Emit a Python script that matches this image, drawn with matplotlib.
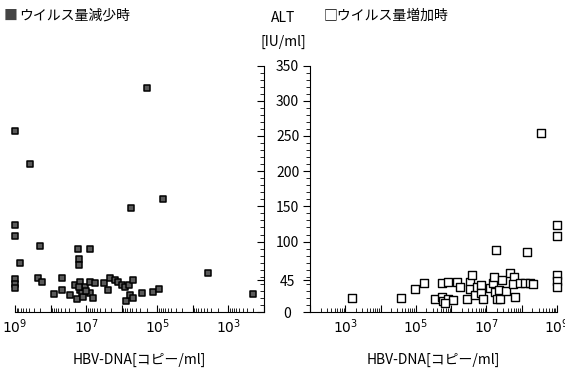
import matplotlib.pyplot as plt
import matplotlib.ticker as mticker
import numpy as np

plt.rcParams['font.family'] = ['Noto Sans CJK JP', 'DejaVu Sans']

# virus load decreasing: log10(HBV-DNA), ALT
dec_logx = [9.0, 8.58, 9.0, 9.0, 8.30, 7.24, 6.89, 5.30, 5.74, 4.83,
            8.86, 7.20, 7.20, 3.57, 2.30, 9.0, 9.0, 9.0, 8.35, 8.25,
            7.90, 7.69, 7.67, 7.46, 7.31, 7.27, 7.17, 7.17, 7.13, 7.03,
            6.89, 6.89, 6.80, 6.75, 6.50, 6.38, 6.33, 6.19, 6.10, 6.00,
            5.90, 5.80, 5.68, 5.88, 5.77, 5.68, 5.44, 5.11, 4.96, 7.20,
            7.10, 7.00]
dec_alt = [257, 210, 123, 108, 94, 89, 89, 318, 147, 161,
           70, 75, 67, 56, 26, 47, 40, 34, 48, 42,
           25, 48, 31, 24, 38, 19, 43, 31, 27, 36,
           42, 27, 20, 41, 41, 31, 48, 45, 42, 38,
           35, 38, 46, 15, 24, 20, 27, 29, 32, 35,
           22, 30]

# virus load increasing
inc_logx = [8.54, 9.0, 9.0, 7.26, 8.16, 3.20, 4.58, 4.97, 5.23, 5.54,
            5.73, 5.73, 5.77, 5.92, 5.92, 6.06, 6.16, 6.25, 6.44, 6.53,
            6.53, 6.58, 6.67, 6.74, 6.86, 6.86, 6.91, 7.10, 7.19, 7.21,
            7.24, 7.29, 7.38, 7.43, 7.36, 7.55, 7.67, 7.78, 7.74, 7.81,
            7.95, 8.09, 8.23, 8.31, 9.0, 9.0, 9.0, 5.82]
inc_alt = [254, 123, 108, 88, 85, 20, 20, 32, 41, 18,
           41, 22, 15, 43, 19, 17, 43, 35, 19, 42,
           32, 53, 24, 36, 39, 27, 19, 34, 41, 49,
           29, 19, 19, 45, 31, 30, 55, 50, 40, 22,
           41, 41, 41, 40, 53, 44, 36, 13]

yticks = [0, 45, 100, 150, 200, 250, 300, 350]

fig = plt.figure(figsize=(5.65, 3.76), dpi=100)
axl = fig.add_axes([15 / 565, 64 / 376, 249 / 565, 246.5 / 376])
axr = fig.add_axes([310 / 565, 64 / 376, 247 / 565, 246.5 / 376])

axl.scatter(10 ** np.array(dec_logx), dec_alt, marker='s', s=20,
            facecolor='#5a5a5a', edgecolor='black', linewidth=1.1,
            zorder=3, clip_on=False)
axr.scatter(10 ** np.array(inc_logx), inc_alt, marker='s', s=38,
            facecolor='white', edgecolor='black', linewidth=1.0,
            zorder=3, clip_on=False)


def fmt(v, pos):
    e = int(round(np.log10(v)))
    return r'$10^{%d}$' % e if e % 2 == 1 else ''


for ax in (axl, axr):
    ax.set_xscale('log')
    ax.set_ylim(0, 350)
    ax.spines['top'].set_visible(False)
    ax.xaxis.set_major_locator(mticker.LogLocator(base=10, numticks=20))
    ax.xaxis.set_minor_locator(mticker.LogLocator(base=10, subs=np.arange(2, 10), numticks=20))
    ax.xaxis.set_major_formatter(mticker.FuncFormatter(fmt))
    ax.xaxis.set_minor_formatter(mticker.NullFormatter())
    ax.tick_params(axis='x', which='major', direction='in', length=5, labelsize=10, pad=4)
    ax.tick_params(axis='x', which='minor', direction='in', length=3)
    ax.set_yticks(yticks)
    ax.yaxis.set_minor_locator(mticker.MultipleLocator(10))
    ax.set_xlabel('HBV-DNA[コピー/ml]', fontsize=10, labelpad=12)

axl.set_xlim(1e9, 1e2)
axr.set_xlim(1e2, 1e9)

axl.spines['left'].set_visible(False)
axl.yaxis.tick_right()
axl.tick_params(axis='y', which='major', direction='in', length=5,
                labelright=True, labelsize=10, pad=17)
axl.tick_params(axis='y', which='minor', direction='in', length=3)
for lab in axl.get_yticklabels():
    lab.set_horizontalalignment('center')

axr.spines['right'].set_visible(False)
axr.tick_params(axis='y', which='major', direction='out', length=5, labelleft=False)
axr.tick_params(axis='y', which='minor', direction='out', length=3)

fig.text(283 / 565, 1 - 18 / 376, 'ALT', ha='center', va='center', fontsize=10)
fig.text(283 / 565, 1 - 42 / 376, '[IU/ml]', ha='center', va='center', fontsize=10)
fig.text(4 / 565, 1 - 16 / 376, '■', ha='left', va='center', fontsize=10, color='#444444')
fig.text(19 / 565, 1 - 16 / 376, 'ウイルス量減少時', ha='left', va='center', fontsize=10)
fig.text(324 / 565, 1 - 16 / 376, '□ウイルス量増加時', ha='left', va='center', fontsize=10)

fig.savefig('out.png', dpi=100)
